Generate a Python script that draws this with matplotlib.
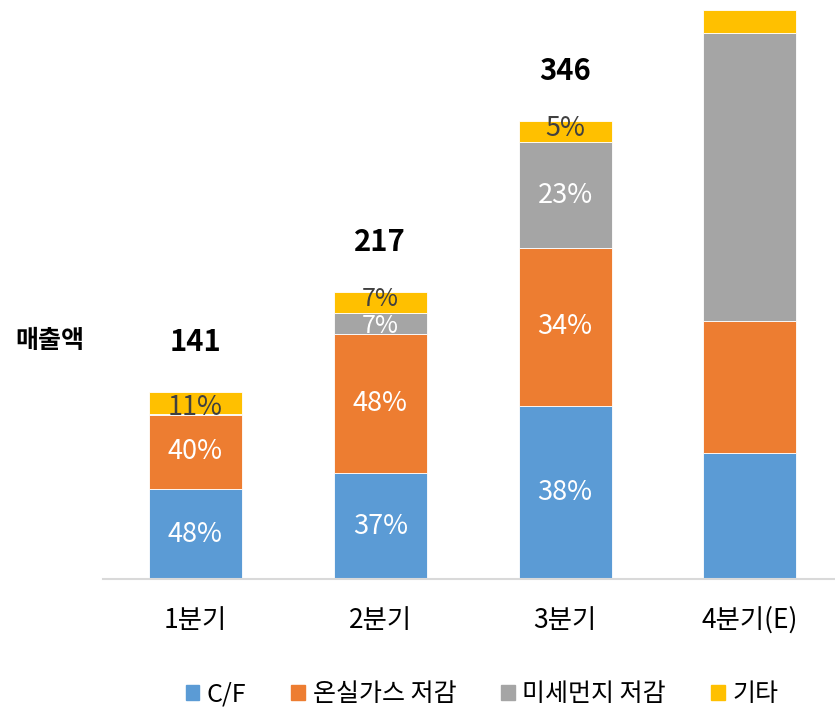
import numpy as np
import matplotlib.pyplot as plt
from matplotlib.patches import Patch

plt.rcParams['font.family'] = ['Noto Sans CJK KR', 'DejaVu Sans']

quarters = ['1분기', '2분기', '3분기', '4분기(E)']
series = ['C/F', '온실가스 저감', '미세먼지 저감', '기타']
cf = [68, 80, 131, 95]
ghg = [56, 105, 119, 100]
dust = [1, 16, 80, 218]
etc = [16, 16, 16, 17]
totals = ['141', '217', '346', '']
pct_labels = [
    ['48%', '37%', '38%', ''],
    ['40%', '48%', '34%', ''],
    ['', '7%', '23%', ''],
    ['11%', '7%', '5%', ''],
]
colors = ['#5b9bd5', '#ed7d31', '#a5a5a5', '#ffc000']
label_colors = ['white', 'white', 'white', '#404040']

fig = plt.figure(figsize=(8.35, 7.12), dpi=100)
ax = fig.add_axes([103 / 835, 133 / 712, 732 / 835, 579 / 712])

x = np.arange(len(quarters))
bottom = np.zeros(len(quarters))
for k, (vals, col, labs, lc) in enumerate(zip([cf, ghg, dust, etc], colors, pct_labels, label_colors)):
    vals = np.array(vals, dtype=float)
    ax.bar(x, vals, 0.503, bottom=bottom, color=col, edgecolor='white', linewidth=0.6)
    for i, lab in enumerate(labs):
        if not lab:
            continue
        yc = bottom[i] + vals[i] / 2
        fs = 19.5
        # small nudges for the thin segments, like the original
        if k == 3:
            yc += -3.5 if i == 0 else 2.5
        if i == 1 and k >= 2:
            fs = 18
            if k == 2:
                yc -= 1.5
        ax.text(x[i], yc, lab, ha='center', va='center', color=lc, fontsize=fs)
    bottom += vals

for i, t in enumerate(totals):
    if t:
        ax.text(x[i], bottom[i] + 38, t, ha='center', va='center', fontsize=21,
                fontweight='bold', color='black')

ax.set_xlim(-0.5, 3.46)
ax.set_ylim(0, 437.6)
ax.set_yticks([])
ax.set_xticks(x)
ax.set_xticklabels(quarters, fontsize=19)
ax.tick_params(axis='x', length=0, pad=20)
for s in ['top', 'right', 'left']:
    ax.spines[s].set_visible(False)
ax.spines['bottom'].set_color('#d9d9d9')
ax.spines['bottom'].set_linewidth(1.5)

fig.text(15 / 835, 1 - 341 / 712, '매출액', ha='left', va='center', fontsize=18,
         fontweight='bold')

handles = [Patch(color=c) for c in colors]
fig.legend(handles, series, loc='center', bbox_to_anchor=(482 / 835, 1 - 694 / 712),
           ncol=4, frameon=False, fontsize=18, handlelength=0.55, handleheight=0.55,
           handletextpad=0.3, columnspacing=1.8)

fig.savefig('out.png', dpi=100)
